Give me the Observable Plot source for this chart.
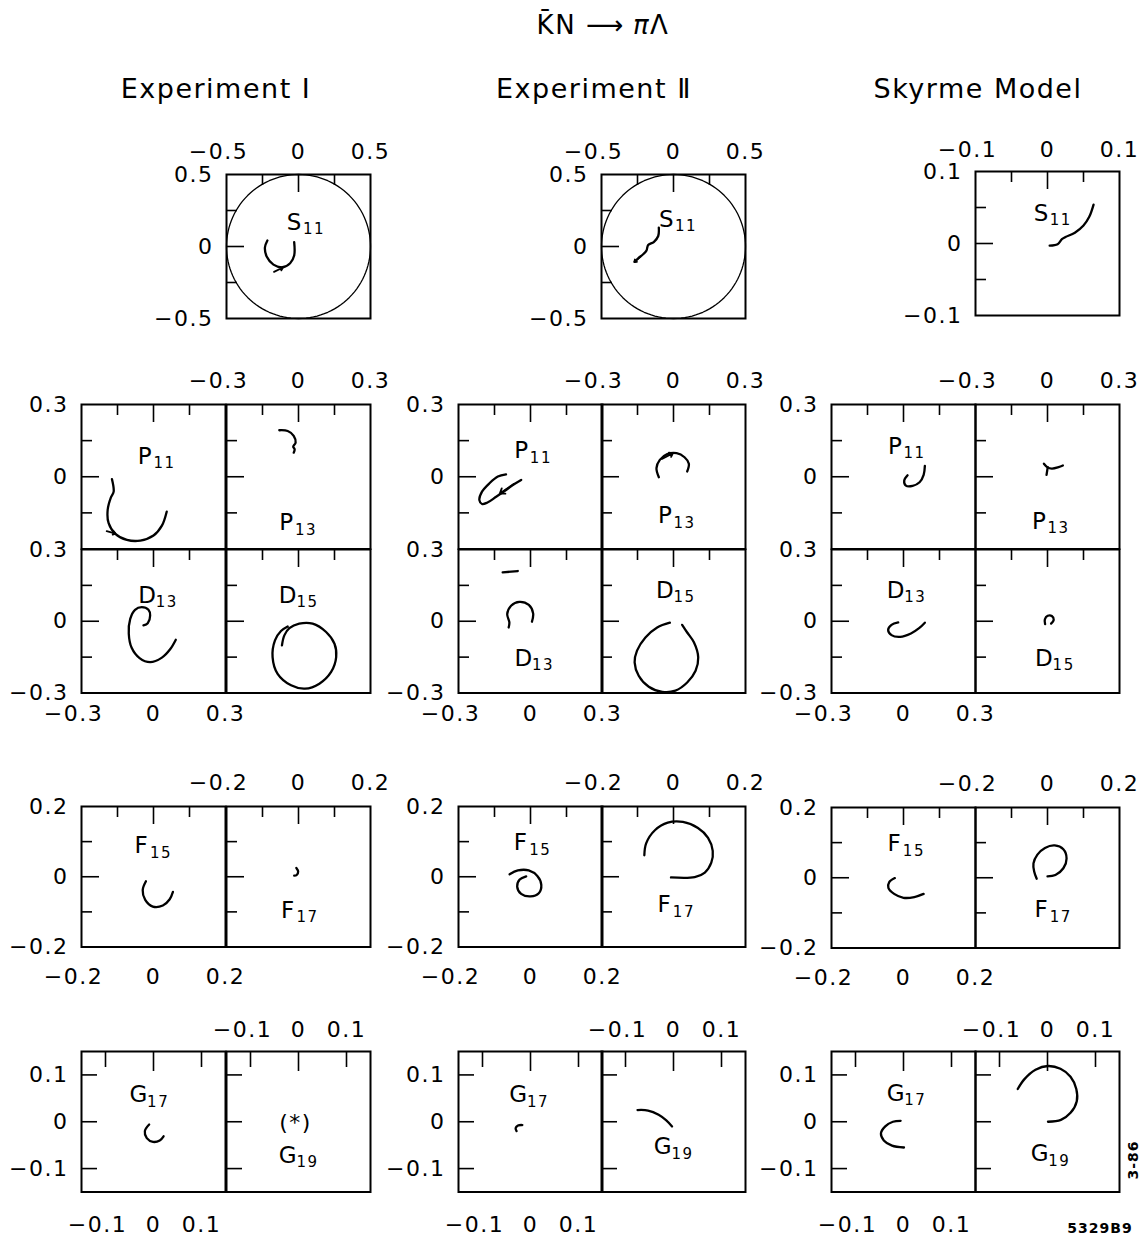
<!DOCTYPE html>
<html>
<head>
<meta charset="utf-8">
<script src="https://cdn.jsdelivr.net/npm/d3@7"></script>
<script src="https://cdn.jsdelivr.net/npm/@observablehq/plot@0.6"></script>
<style>
  body { margin: 0; background: #fff; }
  #fig { position: relative; width: 1146px; height: 1240px; overflow: hidden; background: #fff; color: #000;
         font-family: "DejaVu Sans", "Liberation Sans", sans-serif; }
  .hd { position: absolute; white-space: nowrap; transform: translate(-50%, -50%); font-size: 27px; letter-spacing: 1.5px; }
  .tag { position: absolute; font-weight: bold; font-size: 14px; letter-spacing: 1px; white-space: nowrap; }
</style>
</head>
<body>
<div id="fig"></div>
<script>
// K̄N → πΛ partial-wave amplitudes drawn as Argand diagrams: each point is [Re T, Im T].

const columnTitles = ["Experiment Ⅰ", "Experiment Ⅱ", "Skyrme Model"];

// ---- Experiment I ----
const expI_S11 = [[-0.030,0.030],[-0.030,-0.063],[-0.058,-0.116],[-0.112,-0.144],[-0.174,-0.126],[-0.221,-0.070],[-0.233,-0.005],[-0.216,0.042]];
const expI_S11_arrow = [[-0.170,-0.176,-0.108,-0.146]];
const expI_P11 = [[-0.173,-0.010],[-0.166,-0.062],[-0.177,-0.085],[-0.191,-0.138],[-0.187,-0.193],[-0.159,-0.237],[-0.111,-0.262],[-0.055,-0.265],[0.000,-0.244],[0.035,-0.203],[0.055,-0.145]];
const expI_P11_arrow = [[-0.195,-0.226,-0.158,-0.236]];
const expI_P13 = [[-0.080,0.193],[-0.045,0.190],[-0.020,0.170],[-0.012,0.142],[-0.022,0.125],[-0.016,0.114],[-0.020,0.100]];
const expI_D13 = [[-0.042,-0.017],[-0.024,-0.008],[-0.014,0.024],[-0.021,0.048],[-0.049,0.059],[-0.077,0.048],[-0.097,0.010],[-0.103,-0.052],[-0.091,-0.111],[-0.058,-0.154],[-0.014,-0.171],[0.035,-0.152],[0.070,-0.116],[0.093,-0.077]];
const expI_D15 = [[-0.069,-0.101],[-0.059,-0.059],[-0.038,-0.029],[0.003,-0.010],[0.059,-0.010],[0.115,-0.045],[0.150,-0.094],[0.157,-0.150],[0.136,-0.212],[0.087,-0.261],[0.027,-0.282],[-0.031,-0.268],[-0.087,-0.220],[-0.108,-0.150],[-0.098,-0.080],[-0.073,-0.041],[-0.045,-0.022]];
const expI_F15 = [[-0.021,-0.013],[-0.030,-0.038],[-0.023,-0.066],[-0.002,-0.085],[0.026,-0.082],[0.045,-0.064],[0.054,-0.043]];
const expI_F17 = [[-0.006,0.025],[-0.001,0.015],[-0.005,0.005],[-0.012,0.003]];
const expI_G17 = [[-0.009,-0.006],[-0.018,-0.020],[-0.014,-0.035],[-0.001,-0.043],[0.013,-0.040],[0.021,-0.031]];

// ---- Experiment II ----
const expII_S11 = [[-0.102,0.131],[-0.106,0.073],[-0.137,0.031],[-0.176,0.010],[-0.188,-0.029],[-0.211,-0.054],[-0.245,-0.082],[-0.269,-0.105]];
const expII_S11_arrow = [[-0.232,-0.072,-0.272,-0.108]];
const expII_P11 = [[-0.102,0.010],[-0.136,0.001],[-0.171,-0.027],[-0.202,-0.062],[-0.213,-0.097],[-0.202,-0.113],[-0.181,-0.108],[-0.143,-0.083],[-0.102,-0.055],[-0.067,-0.030],[-0.039,-0.013]];
const expII_P11_arrow = [[-0.070,-0.030,-0.128,-0.070]];
const expII_P13 = [[-0.061,-0.002],[-0.071,0.036],[-0.057,0.070],[-0.026,0.094],[0.013,0.098],[0.046,0.081],[0.064,0.054],[0.057,0.022]];
const expII_P13_arrow = [[-0.048,0.074,-0.002,0.098]];
const expII_D13 = [[-0.091,-0.026],[-0.088,-0.005],[-0.097,0.030],[-0.081,0.065],[-0.046,0.081],[-0.007,0.068],[0.011,0.033],[0.006,-0.002]];
const expII_D13_dash = [[-0.116,0.204],[-0.053,0.210]];
const expII_D15 = [[-0.015,-0.006],[-0.068,-0.026],[-0.117,-0.068],[-0.152,-0.123],[-0.162,-0.172],[-0.145,-0.228],[-0.103,-0.274],[-0.047,-0.295],[0.008,-0.290],[0.057,-0.256],[0.092,-0.207],[0.103,-0.151],[0.085,-0.088],[0.057,-0.047],[0.036,-0.015]];
const expII_F15 = [[-0.058,0.007],[-0.035,0.018],[-0.005,0.018],[0.019,0.002],[0.030,-0.023],[0.023,-0.047],[0.000,-0.056],[-0.026,-0.049],[-0.037,-0.028],[-0.030,-0.008],[-0.012,0.001]];
const expII_F17 = [[-0.081,0.061],[-0.076,0.095],[-0.051,0.133],[-0.016,0.154],[0.026,0.156],[0.068,0.139],[0.096,0.111],[0.109,0.074],[0.105,0.040],[0.087,0.012],[0.059,-0.001],[-0.007,-0.002]];
const expII_G17 = [[-0.017,-0.007],[-0.026,-0.008],[-0.031,-0.014],[-0.029,-0.020]];
const expII_G19 = [[-0.075,0.025],[-0.053,0.024],[-0.031,0.015],[-0.015,0.003],[-0.003,-0.010]];

// ---- Skyrme model ----
const sky_S11 = [[0.003,-0.003],[0.014,-0.001],[0.020,0.006],[0.025,0.009],[0.038,0.015],[0.050,0.025],[0.058,0.037],[0.064,0.054]];
const sky_P11 = [[0.089,0.045],[0.084,0.008],[0.067,-0.023],[0.038,-0.038],[0.010,-0.037],[0.003,-0.016],[0.017,0.006]];
const sky_P13 = [[-0.015,0.054],[-0.001,0.040],[0.018,0.034],[0.046,0.040],[0.064,0.047]];
const sky_P13_stem = [[0.001,0.040],[-0.004,0.008]];
const sky_D13 = [[-0.022,-0.005],[-0.050,-0.015],[-0.064,-0.037],[-0.050,-0.058],[-0.014,-0.065],[0.031,-0.051],[0.065,-0.029],[0.089,-0.006]];
const sky_D15 = [[-0.010,-0.012],[-0.011,0.008],[0.001,0.023],[0.018,0.022],[0.026,0.006],[0.015,-0.010]];
const sky_F15 = [[-0.024,-0.001],[-0.040,-0.013],[-0.042,-0.029],[-0.026,-0.046],[0.000,-0.057],[0.030,-0.055],[0.056,-0.046]];
const sky_F17 = [[0.000,0.004],[0.022,0.008],[0.044,0.027],[0.053,0.055],[0.044,0.081],[0.020,0.092],[-0.007,0.085],[-0.028,0.066],[-0.039,0.041],[-0.037,0.018],[-0.030,-0.003]];
const sky_G17 = [[-0.006,0.002],[-0.022,0.000],[-0.038,-0.010],[-0.047,-0.025],[-0.041,-0.040],[-0.024,-0.051],[0.001,-0.055]];
const sky_G19 = [[-0.062,0.070],[-0.048,0.091],[-0.025,0.111],[0.001,0.119],[0.027,0.113],[0.048,0.096],[0.060,0.070],[0.061,0.044],[0.048,0.019],[0.028,0.004],[0.001,0.000]];

// Axis tick positions and tick labels
const ticksS = [-0.25, 0, 0.25];
const ticksSsky = [-0.05, 0, 0.05];
const ticksPD = [-0.15, 0, 0.15];
const ticksF = [-0.1, 0, 0.1];
const ticksG = [-0.1, 0, 0.1];
const labelsS = [-0.5, 0, 0.5];
const labelsSsky = [-0.1, 0, 0.1];
const labelsPD = [-0.3, 0, 0.3];
const labelsPtop = [0.3, 0];
const labelsF = [-0.2, 0, 0.2];
const labelsG = [-0.1, 0, 0.1];

// ---------------- layout ----------------
const colLeft = [81, 457.5, 831];
const colMid  = [225.5, 601, 974.5];
const W = 144;
const rows = {
  S:  {top: [174, 174, 171], h: 144},
  P:  {top: [404, 404, 404], h: 144.5},
  D:  {top: [548.5, 548.5, 548.5], h: 143.5},
  F:  {top: [806, 806, 806.5], h: 140.5},
  G:  {top: [1051, 1051, 1051], h: 140.5}
};
const rev = a => a.slice().reverse();

const panels = [
  // Experiment I
  {col:0, row:"S", side:1, d:0.5, circle:true, ticks:ticksS, curves:[expI_S11], arrows:expI_S11_arrow, wave:["S","11"], at:[0.475,0.333],
   top:labelsS, left:rev(labelsS), dyTop:-23},
  {col:0, row:"P", side:0, d:0.3, ticks:ticksPD, curves:[expI_P11], arrows:expI_P11_arrow, wave:["P","11"], at:[0.444,0.358], left:labelsPtop},
  {col:0, row:"P", side:1, d:0.3, ticks:ticksPD, curves:[expI_P13], wave:["P","13"], at:[0.42,0.82], top:labelsPD, dyTop:-24},
  {col:0, row:"D", side:0, d:0.3, ticks:ticksPD, curves:[expI_D13], wave:["D","13"], at:[0.46,0.32], left:rev(labelsPD), bottom:labelsPD, dyBottom:21},
  {col:0, row:"D", side:1, d:0.3, ticks:ticksPD, curves:[expI_D15], wave:["D","15"], at:[0.43,0.32]},
  {col:0, row:"F", side:0, d:0.2, ticks:ticksF, curves:[expI_F15], wave:["F","15"], at:[0.42,0.28], left:rev(labelsF), bottom:labelsF, dyBottom:30},
  {col:0, row:"F", side:1, d:0.2, ticks:ticksF, curves:[expI_F17], wave:["F","17"], at:[0.43,0.74], top:labelsF, dyTop:-24},
  {col:0, row:"G", side:0, d:0.15, ticks:ticksG, curves:[expI_G17], wave:["G","17"], at:[0.40,0.31], left:rev(labelsG), bottom:labelsG, dyBottom:33},
  {col:0, row:"G", side:1, d:0.15, ticks:ticksG, curves:[], wave:["G","19"], at:[0.43,0.74], note:"(*)", noteAt:[0.48,0.51], top:labelsG, dyTop:-22},
  // Experiment II
  {col:1, row:"S", side:1, d:0.5, circle:true, ticks:ticksS, curves:[expII_S11], arrows:expII_S11_arrow, wave:["S","11"], at:[0.455,0.31],
   top:labelsS, left:rev(labelsS), dyTop:-23},
  {col:1, row:"P", side:0, d:0.3, ticks:ticksPD, curves:[expII_P11], arrows:expII_P11_arrow, wave:["P","11"], at:[0.44,0.32], left:labelsPtop},
  {col:1, row:"P", side:1, d:0.3, ticks:ticksPD, curves:[expII_P13], arrows:expII_P13_arrow, wave:["P","13"], at:[0.445,0.77], top:labelsPD, dyTop:-24},
  {col:1, row:"D", side:0, d:0.3, ticks:ticksPD, curves:[expII_D13, expII_D13_dash], wave:["D","13"], at:[0.455,0.76], left:rev(labelsPD), bottom:labelsPD, dyBottom:21},
  {col:1, row:"D", side:1, d:0.3, ticks:ticksPD, curves:[expII_D15], wave:["D","15"], at:[0.445,0.285]},
  {col:1, row:"F", side:0, d:0.2, ticks:ticksF, curves:[expII_F15], wave:["F","15"], at:[0.435,0.26], left:rev(labelsF), bottom:labelsF, dyBottom:30},
  {col:1, row:"F", side:1, d:0.2, ticks:ticksF, curves:[expII_F17], wave:["F","17"], at:[0.44,0.70], top:labelsF, dyTop:-24},
  {col:1, row:"G", side:0, d:0.15, ticks:ticksG, curves:[expII_G17], wave:["G","17"], at:[0.42,0.31], left:rev(labelsG), bottom:labelsG, dyBottom:33},
  {col:1, row:"G", side:1, d:0.15, ticks:ticksG, curves:[expII_G19], wave:["G","19"], at:[0.43,0.68], top:labelsG, dyTop:-22},
  // Skyrme model
  {col:2, row:"S", side:1, d:0.1, ticks:ticksSsky, curves:[sky_S11], wave:["S","11"], at:[0.46,0.29],
   top:labelsSsky, left:rev(labelsSsky), dyTop:-22},
  {col:2, row:"P", side:0, d:0.3, ticks:ticksPD, curves:[sky_P11], wave:["P","11"], at:[0.445,0.29], left:labelsPtop},
  {col:2, row:"P", side:1, d:0.3, ticks:ticksPD, curves:[sky_P13, sky_P13_stem], wave:["P","13"], at:[0.445,0.81], top:labelsPD, dyTop:-24},
  {col:2, row:"D", side:0, d:0.3, ticks:ticksPD, curves:[sky_D13], wave:["D","13"], at:[0.45,0.285], left:rev(labelsPD), bottom:labelsPD, dyBottom:21},
  {col:2, row:"D", side:1, d:0.3, ticks:ticksPD, curves:[sky_D15], wave:["D","15"], at:[0.48,0.76]},
  {col:2, row:"F", side:0, d:0.2, ticks:ticksF, curves:[sky_F15], wave:["F","15"], at:[0.44,0.26], left:rev(labelsF), bottom:labelsF, dyBottom:30},
  {col:2, row:"F", side:1, d:0.2, ticks:ticksF, curves:[sky_F17], wave:["F","17"], at:[0.46,0.73], top:labelsF, dyTop:-24},
  {col:2, row:"G", side:0, d:0.15, ticks:ticksG, curves:[sky_G17], wave:["G","17"], at:[0.45,0.30], left:rev(labelsG), bottom:labelsG, dyBottom:33},
  {col:2, row:"G", side:1, d:0.15, ticks:ticksG, curves:[sky_G19], wave:["G","19"], at:[0.45,0.73], top:labelsG, dyTop:-22}
];

const fmt = v => v === 0 ? "0" : (v < 0 ? "\u2212" : "") + String(Math.abs(v));
const UNITARITY_RADIUS = 0.5;
const unitarityCircle = d3.range(0, 361, 3).map(a => [UNITARITY_RADIUS * Math.cos(a * Math.PI / 180), UNITARITY_RADIUS * Math.sin(a * Math.PI / 180)]);

const fig = document.getElementById("fig");
const M = 70;

function drawPanel(p) {
  const r = rows[p.row];
  const left = p.side ? colMid[p.col] : colLeft[p.col];
  const top = r.top[p.col];
  const h = r.h, d = p.d;
  const ppx = W / (2 * d), ppy = h / (2 * d);
  // inward tick lengths in pixels
  const topLen = v => p.row === "G" ? (v === 0 ? 20 : 16) : (v === 0 ? 18 : 11);
  const leftLen = v => p.row === "G" ? 16 : (v === 0 ? 18 : 11);
  const ink = {stroke: "#000"};
  const marks = [];
  if (p.circle) marks.push(Plot.line(unitarityCircle, {x: q => q[0], y: q => q[1], ...ink, strokeWidth: 1.3}));
  marks.push(Plot.frame({...ink, strokeWidth: 2}));
  marks.push(Plot.ruleX(p.ticks, {x: v => v, y1: () => d, y2: v => d - topLen(v) / ppy, ...ink, strokeWidth: 1.6}));
  marks.push(Plot.ruleY(p.ticks, {y: v => v, x1: () => -d, x2: v => -d + leftLen(v) / ppx, ...ink, strokeWidth: 1.6}));
  for (const c of p.curves) {
    marks.push(Plot.line(c, {x: q => q[0], y: q => q[1], curve: c.length > 2 ? "catmull-rom" : "linear",
      ...ink, strokeWidth: 2.3, strokeLinecap: "round", strokeLinejoin: "round"}));
  }
  if (p.arrows) {
    marks.push(Plot.arrow(p.arrows, {x1: a => a[0], y1: a => a[1], x2: a => a[2], y2: a => a[3],
      ...ink, strokeWidth: 1.8, headLength: 9, headAngle: 70}));
  }
  // tick labels
  const txt = {text: v => fmt(v), fontSize: 22};
  if (p.top) {
    marks.push(Plot.text(p.top.filter(v => v >= 0), {x: v => v, y: () => d, dy: p.dyTop, ...txt}));
    marks.push(Plot.text(p.top.filter(v => v < 0), {x: v => v, y: () => d, dy: p.dyTop, dx: -8, ...txt}));
  }
  if (p.bottom) {
    marks.push(Plot.text(p.bottom.filter(v => v >= 0), {x: v => v, y: () => -d, dy: p.dyBottom, ...txt}));
    marks.push(Plot.text(p.bottom.filter(v => v < 0), {x: v => v, y: () => -d, dy: p.dyBottom, dx: -8, ...txt}));
  }
  if (p.left) {
    marks.push(Plot.text(p.left, {x: () => -d, y: v => v, dx: -13, textAnchor: "end", ...txt}));
  }
  // partial-wave name with subscript
  const nx = -d + p.at[0] * 2 * d, ny = d - p.at[1] * 2 * d;
  marks.push(Plot.text([p.wave[0]], {x: () => nx, y: () => ny, text: t => t, fontSize: 23}));
  marks.push(Plot.text([p.wave[1]], {x: () => nx, y: () => ny, text: t => t, fontSize: 15, dx: 8, dy: 7, textAnchor: "start"}));
  if (p.note) {
    const mx = -d + p.noteAt[0] * 2 * d, my = d - p.noteAt[1] * 2 * d;
    marks.push(Plot.text([p.note], {x: () => mx, y: () => my, text: t => t, fontSize: 22}));
  }
  const svg = Plot.plot({
    width: W + 2 * M, height: h + 2 * M,
    marginLeft: M, marginRight: M, marginTop: M, marginBottom: M,
    x: {domain: [-d, d], axis: null},
    y: {domain: [-d, d], axis: null},
    style: {background: "transparent", fontFamily: "'DejaVu Sans', 'Liberation Sans', sans-serif", fontSize: "22px",
            letterSpacing: "1.5px", position: "absolute", left: (left - M) + "px", top: (top - M) + "px", overflow: "visible", maxWidth: "none"},
    marks
  });
  fig.appendChild(svg);
}

panels.forEach(drawPanel);

// Headings and captions
function addDiv(cls, html, x, y, extra) {
  const el = document.createElement("div");
  el.className = cls;
  el.innerHTML = html;
  el.style.left = x + "px";
  el.style.top = y + "px";
  if (extra) Object.assign(el.style, extra);
  fig.appendChild(el);
  return el;
}
addDiv("hd", "K\u0304N <span style='letter-spacing:0'>\u27F6</span> <i>\u03C0</i>\u039B", 603, 25, {fontSize: "26px"});
const headX = [216, 594, 978];
columnTitles.forEach((t, i) => addDiv("hd", t, headX[i], 88));
addDiv("tag", "3-86", 1133, 1160, {transform: "translate(-50%, -50%) rotate(-90deg)"});
addDiv("tag", "5329B9", 1100, 1228, {transform: "translate(-50%, -50%)"});
</script>
</body>
</html>
